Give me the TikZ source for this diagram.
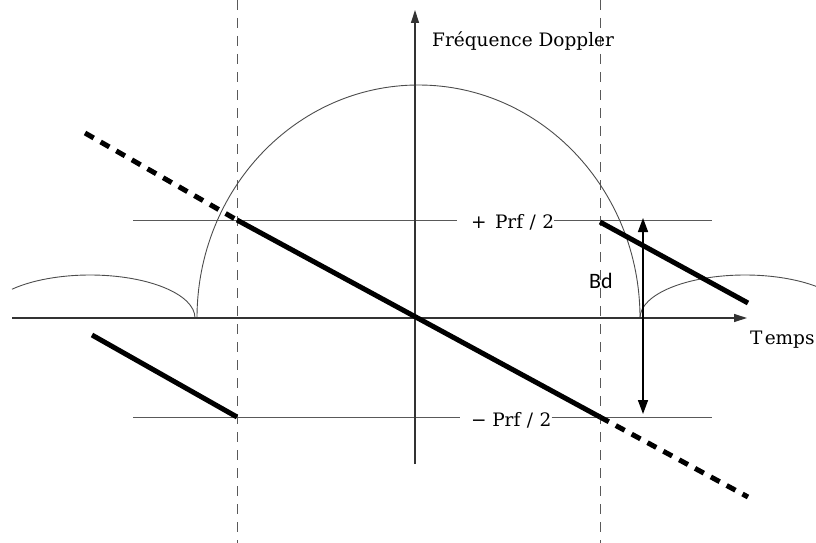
\documentclass[tikz,border=0pt]{standalone}
\usepackage{fontspec}
\setmainfont{DejaVu Serif}
\newfontfamily\bdfont{Carlito}
\usetikzlibrary{arrows.meta}
\begin{document}
\begin{tikzpicture}[x=1pt,y=-1pt,
  thinline/.style={draw=black!65, line width=1pt},
  axisline/.style={draw=black!80, line width=1.2pt},
  vdash/.style={draw=black!65, line width=1pt, dash pattern=on 10pt off 8pt},
  thickseg/.style={draw=black, line width=5pt},
  thickdash/.style={draw=black, line width=5pt, dash pattern=on 10pt off 8pt},
  arc/.style={draw=black!70, line width=0.9pt},
  lbl/.style={font=\fontsize{18.5}{20}\selectfont, inner sep=0pt}
]
\useasboundingbox (0,0) rectangle (816,543);
% coordinates
\coordinate (vxL) at (12,318);
\coordinate (vxR) at (747,318);
\coordinate (vyB) at (415,464);
\coordinate (vyT) at (415,10);
\coordinate (d1T) at (237,0);
\coordinate (d1B) at (237,543);
\coordinate (d2T) at (600,0);
\coordinate (d2B) at (600,543);
\coordinate (hpL) at (133,220);
\coordinate (hpG) at (457,220);
\coordinate (hpR) at (712,220);
\coordinate (hmL) at (133,417);
\coordinate (hmG) at (460,417);
\coordinate (hmR) at (712,417);
\coordinate (pA) at (237,220);
\coordinate (pB) at (600,417);
\coordinate (pC) at (85,133);
\coordinate (pD) at (748,497);
\coordinate (lA) at (92,335);
\coordinate (lB) at (237,417);
\coordinate (rA) at (600,222);
\coordinate (rB) at (748,303);
\coordinate (bdT) at (643,218);
\coordinate (bdB) at (643,414);
% labels on level lines
\node[lbl, anchor=west] (plus) at (471,222) {+\hspace{0.45em}Prf\hspace{0.35em}/\hspace{0.35em}2};
\node[lbl, anchor=west] (minus) at (471,420) {−\hspace{0.3em}Prf\hspace{0.35em}/\hspace{0.35em}2};
% dashed verticals
\draw[vdash] (d1T) -- (d1B);
\draw[vdash] (d2T) -- (d2B);
% horizontal level lines
\draw[thinline] (hpL) -- (hpG);
\draw[thinline] (plus.east |- hpR) -- (hpR);
\draw[thinline] (hmL) -- (hmG);
\draw[thinline] (minus.east |- hmR) -- (hmR);
% arcs
\begin{scope}
\clip (0,0) rectangle (816,543);
\draw[arc] (197,318) arc[start angle=180, end angle=0, x radius=221.5pt, y radius=233pt];
\draw[arc] (195,318) arc[start angle=0, end angle=138, x radius=105pt, y radius=43pt];
\draw[arc] (640,318) arc[start angle=180, end angle=20, x radius=105pt, y radius=43pt];
\end{scope}
% axes
\draw[axisline, -{Triangle[length=13pt,width=8pt]}] (vxL) -- (vxR);
\draw[axisline, -{Triangle[length=13pt,width=8pt]}] (vyB) -- (vyT);
% thick lines
\draw[thickseg] (pA) -- (pB);
\draw[thickdash] (pC) -- (pA);
\draw[thickdash] (pB) -- (pD);
\draw[thickseg] (lA) -- (lB);
\draw[thickseg] (rA) -- (rB);
% Bd arrow
\draw[draw=black, line width=1.6pt, {Triangle[length=14pt,width=10pt]}-{Triangle[length=14pt,width=10pt]}] (bdT) -- (bdB);
\node[font=\bdfont\fontsize{22}{24}\selectfont] (bd) at (601,281) {Bd};
% axis labels
\node[lbl, anchor=west] (fd) at (432,41) {Fréquence Doppler};
\node[lbl, anchor=west] (tp) at (750,340) {T\hspace{0.12em}emps};
\end{tikzpicture}
\end{document}
